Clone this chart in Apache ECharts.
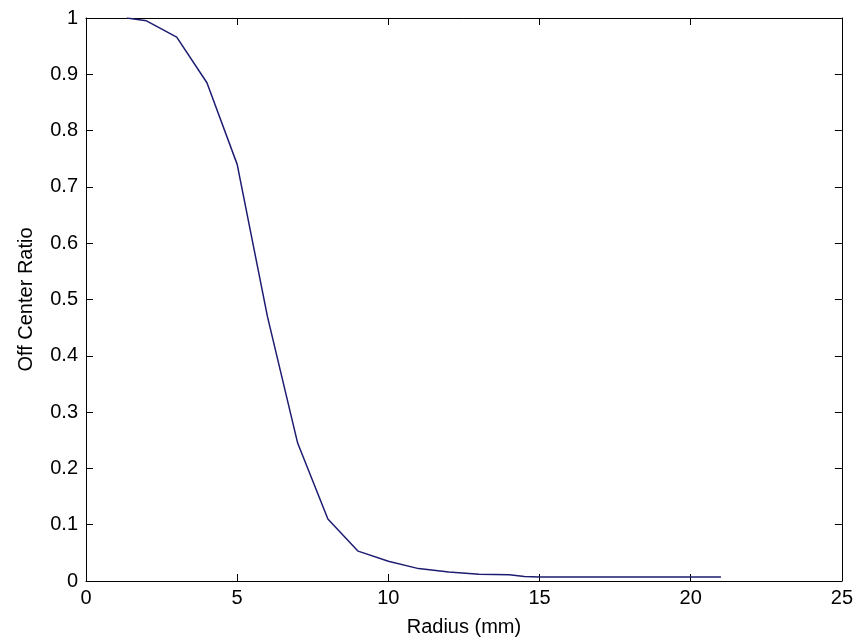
<!DOCTYPE html>
<html>
<head>
<meta charset="utf-8">
<script src="https://cdn.jsdelivr.net/npm/echarts@6/dist/echarts.min.js"></script>
<style>
  html, body { margin: 0; padding: 0; background: #fff; }
  #chart { width: 856px; height: 644px; }
</style>
</head>
<body>
<div id="chart"></div>
<script>
// Radial profile: off-center ratio versus radius
const radiusMm = [1.35, 2, 3, 4, 5, 6, 7, 8, 9, 10, 11, 12, 13, 14, 14.5, 15, 16, 17, 18, 19, 20, 21];
const offCenterRatio = [1.0, 0.995, 0.966, 0.885, 0.74, 0.47, 0.245, 0.11, 0.053, 0.035, 0.022, 0.016, 0.012, 0.011, 0.008, 0.007, 0.007, 0.007, 0.007, 0.007, 0.007, 0.007];
const xTicks = [0, 5, 10, 15, 20, 25];
const yTicks = [0, 0.1, 0.2, 0.3, 0.4, 0.5, 0.6, 0.7, 0.8, 0.9, 1];

const font = 'Liberation Sans, Arial, sans-serif';
const fontSize = 20;
const axisLine = { show: true, onZero: false, lineStyle: { color: '#000', width: 1 } };
const tick = { show: true, inside: true, length: 7, lineStyle: { color: '#000' } };

const chart = echarts.init(document.getElementById('chart'), null, { renderer: 'canvas' });
chart.setOption({
  animation: false,
  backgroundColor: '#fff',
  grid: { left: 86, right: 13, top: 18, bottom: 63, containLabel: false },
  xAxis: [
    {
      type: 'value', min: xTicks[0], max: xTicks[xTicks.length - 1], interval: xTicks[1] - xTicks[0],
      position: 'bottom',
      name: 'Radius (mm)', nameLocation: 'middle', nameGap: 36,
      nameTextStyle: { fontFamily: font, fontSize: fontSize, color: '#000' },
      axisLine, axisTick: tick,
      axisLabel: { fontFamily: font, fontSize: fontSize, color: '#000', margin: 7 },
      splitLine: { show: false }
    },
    {
      type: 'value', min: xTicks[0], max: xTicks[xTicks.length - 1], interval: xTicks[1] - xTicks[0],
      position: 'top', axisLine, axisTick: tick, axisLabel: { show: false }, splitLine: { show: false }
    }
  ],
  yAxis: [
    {
      type: 'value', min: yTicks[0], max: yTicks[yTicks.length - 1], interval: 0.1,
      position: 'left',
      name: 'Off Center Ratio', nameLocation: 'middle', nameGap: 50,
      nameTextStyle: { fontFamily: font, fontSize: fontSize, color: '#000' },
      axisLine, axisTick: tick,
      axisLabel: { fontFamily: font, fontSize: fontSize, color: '#000', margin: 8 },
      splitLine: { show: false }
    },
    {
      type: 'value', min: yTicks[0], max: yTicks[yTicks.length - 1], interval: 0.1,
      position: 'right', axisLine, axisTick: tick, axisLabel: { show: false }, splitLine: { show: false }
    }
  ],
  series: [
    {
      type: 'line',
      xAxisIndex: 0, yAxisIndex: 0,
      data: radiusMm.map((r, i) => [r, offCenterRatio[i]]),
      showSymbol: false,
      lineStyle: { color: '#1c1c72', width: 1.5 },
      clip: true
    }
  ]
});
</script>
</body>
</html>
